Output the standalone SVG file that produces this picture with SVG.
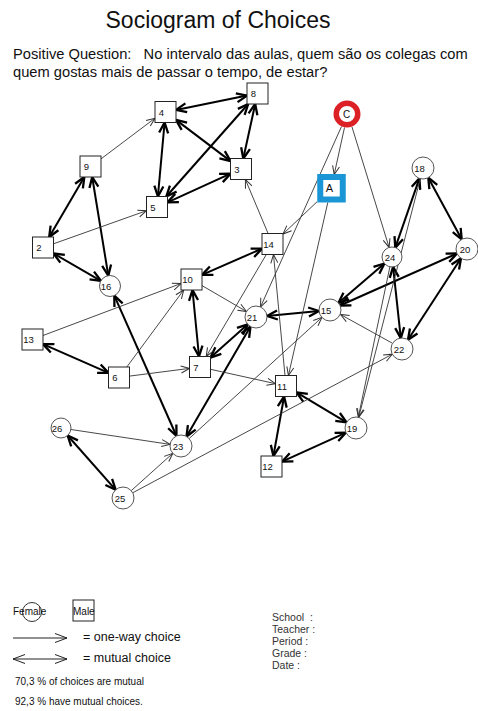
<svg xmlns="http://www.w3.org/2000/svg" width="478" height="711" viewBox="0 0 478 711">
<style>
text{font-family:"Liberation Sans",Arial,sans-serif;fill:#111;}
.one{stroke:#333;stroke-width:0.9;fill:none;marker-end:url(#mt);}
.mut{stroke:#000;stroke-width:2;fill:none;marker-start:url(#mk);marker-end:url(#mk);}
.sq{fill:#fff;stroke:#222;stroke-width:1;}
.ci{fill:#fff;stroke:#555;stroke-width:1;}
.lb{font-size:9.5px;text-anchor:middle;}
.leg{stroke:#222;stroke-width:1;fill:none;}
.info{font-size:10.5px;fill:#333;}
</style>
<defs>
<marker id="mt" markerUnits="userSpaceOnUse" viewBox="0 0 12 12" markerWidth="12" markerHeight="12" refX="10" refY="6" orient="auto-start-reverse">
<path d="M1.5,2.5 L10,6 L1.5,9.5" fill="none" stroke="#333" stroke-width="1"/>
</marker>
<marker id="mk" markerUnits="userSpaceOnUse" viewBox="0 0 14 14" markerWidth="14" markerHeight="14" refX="12" refY="7" orient="auto-start-reverse">
<path d="M1.5,2.5 L12,7 L1.5,11.5" fill="none" stroke="#000" stroke-width="2.3" stroke-linejoin="round"/>
</marker>
</defs>

<g id="header">
<text x="218" y="28" font-size="23" text-anchor="middle" fill="#000">Sociogram of Choices</text>
<text x="13" y="58.5" font-size="14.7" xml:space="preserve">Positive Question:   No intervalo das aulas, quem são os colegas com</text>
<text x="13" y="76.5" font-size="14.7">quem gostas mais de passar o tempo, de estar?</text>
</g>

<g id="connectors">
<line class="mut" x1="176" y1="109.9" x2="247" y2="95.6"/>
<line class="mut" x1="164.6" y1="122.5" x2="157.9" y2="196.5"/>
<line class="mut" x1="176" y1="119.9" x2="230.5" y2="161.1"/>
<line class="mut" x1="255.2" y1="104" x2="243.3" y2="158.5"/>
<line class="mut" x1="248.2" y1="104" x2="166.3" y2="196.5"/>
<line class="mut" x1="167.5" y1="202.3" x2="230.5" y2="173.7"/>
<line class="mut" x1="84.3" y1="177" x2="49.2" y2="237"/>
<line class="mut" x1="92.2" y1="177" x2="108.3" y2="275.6"/>
<line class="mut" x1="53.5" y1="253.5" x2="100.9" y2="280.8"/>
<line class="mut" x1="202" y1="274.9" x2="262" y2="248.6"/>
<line class="mut" x1="192.5" y1="290" x2="199" y2="356.5"/>
<line class="mut" x1="210.5" y1="357.6" x2="247.8" y2="324.3"/>
<line class="mut" x1="267" y1="316" x2="319" y2="311"/>
<line class="mut" x1="43" y1="344.1" x2="108.5" y2="372.9"/>
<line class="mut" x1="114.3" y1="295.6" x2="176.5" y2="436"/>
<line class="mut" x1="250.5" y1="326.5" x2="186.5" y2="436.5"/>
<line class="mut" x1="67.6" y1="435.5" x2="115.7" y2="489.8"/>
<line class="mut" x1="284.1" y1="396.5" x2="273.4" y2="456"/>
<line class="mut" x1="296.5" y1="392.3" x2="346.6" y2="422.3"/>
<line class="mut" x1="282" y1="461.7" x2="346" y2="432.6"/>
<line class="mut" x1="395.3" y1="247.6" x2="419.4" y2="178.4"/>
<line class="mut" x1="393.1" y1="266.9" x2="400.8" y2="338.1"/>
<line class="mut" x1="384.4" y1="263.5" x2="338.4" y2="302.9"/>
<line class="mut" x1="457" y1="253.5" x2="340" y2="305.5"/>
<line class="mut" x1="428.3" y1="177.7" x2="461.7" y2="239.3"/>
<line class="mut" x1="461" y1="258.2" x2="408" y2="339.8"/>

<line class="one" x1="101" y1="158.9" x2="155" y2="118.2"/>
<line class="one" x1="53.5" y1="243.8" x2="146.5" y2="210.7"/>
<line class="one" x1="268.1" y1="233.5" x2="245.4" y2="179.5"/>
<line class="one" x1="317" y1="201.8" x2="283" y2="234"/>
<line class="one" x1="344.5" y1="127.5" x2="334.2" y2="174.5"/>
<line class="one" x1="352" y1="127" x2="389.1" y2="247.4"/>
<line class="one" x1="341.5" y1="126.5" x2="260.5" y2="307"/>
<line class="one" x1="327.8" y1="202.5" x2="288.4" y2="375.5"/>
<line class="one" x1="285" y1="375.5" x2="273.5" y2="254.5"/>
<line class="one" x1="266.3" y1="254.5" x2="206.2" y2="356.5"/>
<line class="one" x1="202" y1="285.6" x2="246.5" y2="311.5"/>
<line class="one" x1="43" y1="335.5" x2="181" y2="283.5"/>
<line class="one" x1="126.8" y1="367" x2="183.7" y2="290"/>
<line class="one" x1="129.5" y1="376.1" x2="189.5" y2="368.4"/>
<line class="one" x1="210.5" y1="369.3" x2="275.5" y2="383.7"/>
<line class="one" x1="189.1" y1="438.6" x2="321.9" y2="317.4"/>
<line class="one" x1="131.2" y1="490.7" x2="172.8" y2="453.3"/>
<line class="one" x1="132.7" y1="492.8" x2="392.3" y2="354.2"/>
<line class="one" x1="70.9" y1="429.5" x2="170.1" y2="444.4"/>
<line class="one" x1="392" y1="343" x2="340.5" y2="314.5"/>
<line class="one" x1="420.3" y1="178.7" x2="358.7" y2="417.3"/>
<line class="one" x1="389.9" y1="266.8" x2="358.3" y2="417.2"/>
</g>

<g id="n4"><rect class="sq" x="155" y="101.5" width="21" height="21"/><text class="lb" x="161.5" y="115.5">4</text></g>
<g id="n8"><rect class="sq" x="247" y="83" width="21" height="21"/><text class="lb" x="253.5" y="97">8</text></g>
<g id="n3"><rect class="sq" x="230.5" y="158.5" width="21" height="21"/><text class="lb" x="237" y="172.5">3</text></g>
<g id="n9"><rect class="sq" x="80" y="156" width="21" height="21"/><text class="lb" x="86.5" y="170">9</text></g>
<g id="n5"><rect class="sq" x="146.5" y="196.5" width="21" height="21"/><text class="lb" x="153" y="210.5">5</text></g>
<g id="n2"><rect class="sq" x="32.5" y="237" width="21" height="21"/><text class="lb" x="39" y="251">2</text></g>
<g id="n10"><rect class="sq" x="181" y="269" width="21" height="21"/><text class="lb" x="187.5" y="283">10</text></g>
<g id="n14"><rect class="sq" x="262" y="233.5" width="21" height="21"/><text class="lb" x="268.5" y="247.5">14</text></g>
<g id="n7"><rect class="sq" x="189.5" y="356.5" width="21" height="21"/><text class="lb" x="196" y="370.5">7</text></g>
<g id="n11"><rect class="sq" x="275.5" y="375.5" width="21" height="21"/><text class="lb" x="282" y="389.5">11</text></g>
<g id="n12"><rect class="sq" x="261" y="456" width="21" height="21"/><text class="lb" x="267.5" y="470">12</text></g>
<g id="n13"><rect class="sq" x="22" y="329" width="21" height="21"/><text class="lb" x="28.5" y="343">13</text></g>
<g id="n6"><rect class="sq" x="108.5" y="367" width="21" height="21"/><text class="lb" x="115" y="381">6</text></g>

<g id="n16"><circle class="ci" cx="110" cy="286" r="10.5"/><text class="lb" x="106" y="289.5">16</text></g>
<g id="n21"><circle class="ci" cx="256" cy="317" r="11"/><text class="lb" x="252" y="320.5">21</text></g>
<g id="n15"><circle class="ci" cx="330" cy="310" r="11"/><text class="lb" x="326" y="313.5">15</text></g>
<g id="n22"><circle class="ci" cx="402" cy="349" r="11"/><text class="lb" x="399" y="352.5">22</text></g>
<g id="n19"><circle class="ci" cx="356" cy="428" r="11"/><text class="lb" x="352" y="431.5">19</text></g>
<g id="n23"><circle class="ci" cx="181" cy="446" r="11"/><text class="lb" x="178" y="449.5">23</text></g>
<g id="n26"><circle class="ci" cx="61" cy="428" r="10"/><text class="lb" x="57" y="431.5">26</text></g>
<g id="n25"><circle class="ci" cx="123" cy="498" r="11"/><text class="lb" x="120" y="501.5">25</text></g>
<g id="n24"><circle class="ci" cx="392" cy="257" r="10"/><text class="lb" x="390" y="260.5">24</text></g>
<g id="n18"><circle class="ci" cx="423" cy="168" r="11"/><text class="lb" x="419.5" y="171.5">18</text></g>
<g id="n20"><circle class="ci" cx="467" cy="249" r="11"/><text class="lb" x="465" y="252.5">20</text></g>

<g id="nA"><rect x="320.25" y="177" width="22.5" height="22.5" fill="#fff" stroke="#1a96d6" stroke-width="6"/><text x="329.5" y="191.5" font-size="11" text-anchor="middle">A</text></g>
<g id="nC"><circle cx="347" cy="114" r="10.75" fill="#fff" stroke="#dc2126" stroke-width="5.5"/><text x="346.5" y="117.5" font-size="10" text-anchor="middle">C</text></g>

<g id="legend">
<circle cx="32" cy="612" r="9.5" fill="none" stroke="#333" stroke-width="1"/>
<text x="13" y="614.5" font-size="10">Female</text>
<rect x="73" y="600" width="21" height="21" fill="none" stroke="#222" stroke-width="1"/>
<text x="73" y="614.5" font-size="10">Male</text>
<line class="leg" x1="13" y1="638" x2="67" y2="638"/>
<path class="leg" d="M55,633.5 L67,638 L55,642.5"/>
<text x="83" y="641" font-size="12.5">= one-way choice</text>
<line class="leg" x1="13" y1="659" x2="67" y2="659"/>
<path class="leg" d="M55,654.5 L67,659 L55,663.5"/>
<path class="leg" d="M25,654.5 L13,659 L25,663.5"/>
<text x="83" y="662" font-size="12.5">= mutual choice</text>
<text x="15" y="685" font-size="10">70,3 % of choices are mutual</text>
<text x="15" y="705" font-size="10">92,3 % have mutual choices.</text>
</g>

<g id="info">
<text class="info" x="272" y="621" xml:space="preserve">School  :</text>
<text class="info" x="272" y="632.5">Teacher :</text>
<text class="info" x="272" y="644.5">Period :</text>
<text class="info" x="272" y="656.5">Grade :</text>
<text class="info" x="272" y="668.5">Date :</text>
</g>
</svg>
